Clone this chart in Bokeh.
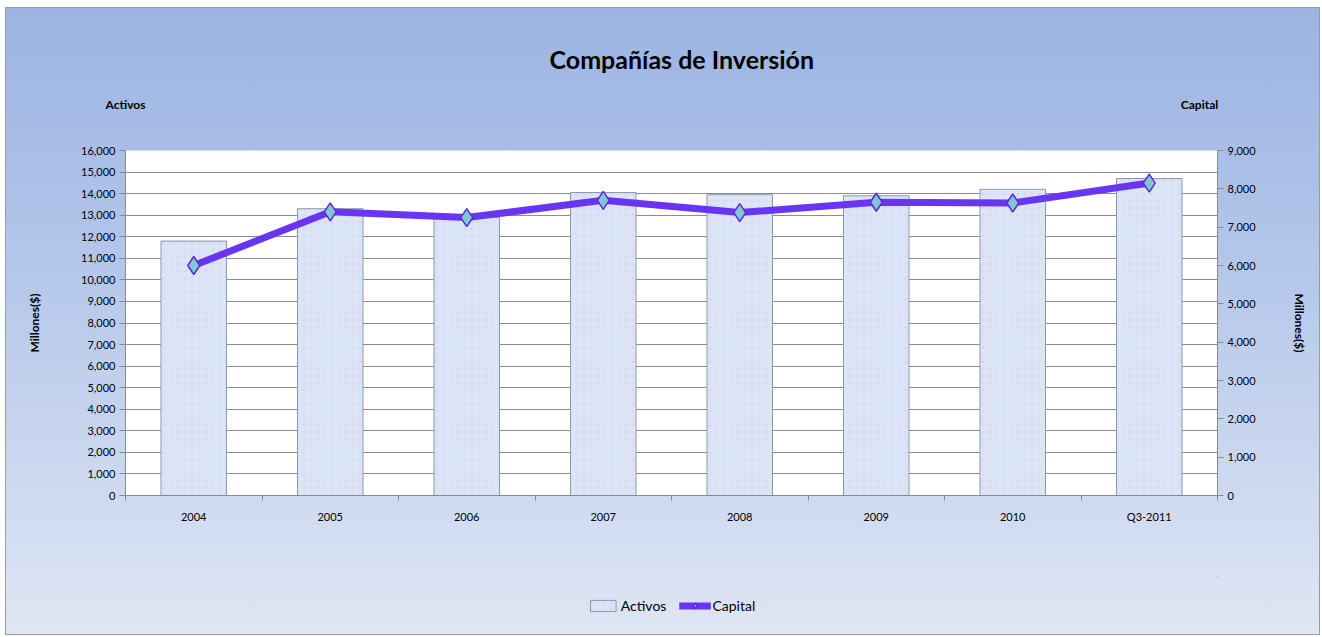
from bokeh.plotting import figure
from bokeh.layouts import column
from bokeh.models import (Range1d, LinearAxis, Legend, LegendItem, Title,
                          NumeralTickFormatter, SingleIntervalTicker, FixedTicker)
from bokeh.embed import file_html
from bokeh.resources import INLINE

years = ["2004", "2005", "2006", "2007", "2008", "2009", "2010", "Q3-2011"]
activos = [11800, 13300, 12900, 14050, 13950, 13900, 14200, 14700]
capital = [6000, 7400, 7250, 7700, 7380, 7650, 7630, 8150]

title_text = "Compañías de Inversión"
left_title = "Activos"
right_title = "Capital"
axis_title = "Millones($)"

FONT = "Lato"
FL, FR, FT, FB = 119, 102, 142, 65
FW, FH = 1092, 345
LMAX, RMAX = 16000, 9000

BAR_STYLE = dict(fill_color="#d8e7f8", line_color="#8f96a8", line_width=1,
                 hatch_pattern="dot", hatch_color="#efc8ee", hatch_alpha=0.7, hatch_scale=7)
LINE_STYLE = dict(line_color="#6a35f2", line_width=7)
PT_STYLE = dict(marker="diamond", size=18, fill_color="#7fc6d6", line_color="#5a2bd0", line_width=1.5)

n = len(years)
xs = [i + 0.5 for i in range(n)]          # category centres

p = figure(frame_width=FW, frame_height=FH, x_range=Range1d(0, n),
           y_range=Range1d(0, LMAX), output_backend="svg", toolbar_location=None,
           min_border_left=FL, min_border_right=FR, min_border_top=FT, min_border_bottom=FB,
           border_fill_alpha=0, background_fill_color="white", outline_line_color=None)
p.extra_y_ranges = {"cap": Range1d(0, RMAX)}
p.extra_x_ranges = {"hdr": Range1d(0, FW)}

bars = p.vbar(x=xs, top=activos, width=0.48, **BAR_STYLE)
line = p.line(x=xs, y=capital, y_range_name="cap", **LINE_STYLE)
pts = p.scatter(x=xs, y=capital, y_range_name="cap", **PT_STYLE)

# axes
ax = p.yaxis[0]
ax.ticker = SingleIntervalTicker(interval=1000)
ax.formatter = NumeralTickFormatter(format="0,0")
ax.axis_label = axis_title
ax.axis_label_standoff = 36

rax = LinearAxis(y_range_name="cap", ticker=SingleIntervalTicker(interval=1000),
                 formatter=NumeralTickFormatter(format="0,0"), axis_label=axis_title,
                 axis_label_standoff=33)
p.add_layout(rax, "right")

for a in [ax, rax]:
    a.axis_line_color = "#8a8a8a"
    a.major_tick_line_color = "#8a8a8a"
    a.major_tick_out = 6
    a.major_tick_in = 0
    a.minor_tick_line_color = None
    a.major_label_text_font = FONT
    a.major_label_text_font_size = "11px"
    a.major_label_text_color = "#000000"
    a.axis_label_text_font = FONT
    a.axis_label_text_font_size = "12px"
    a.axis_label_text_font_style = "bold"
    a.axis_label_text_color = "#000000"
    a.major_label_standoff = 4

xa = p.xaxis[0]
xa.ticker = FixedTicker(ticks=xs, minor_ticks=list(range(n + 1)))
xa.major_label_overrides = {x: y for x, y in zip(xs, years)}
xa.axis_line_color = "#8a8a8a"
xa.major_tick_line_color = None
xa.minor_tick_line_color = "#8a8a8a"
xa.minor_tick_out = 5
xa.minor_tick_in = 0
xa.major_label_text_font = FONT
xa.major_label_text_font_size = "11px"
xa.major_label_text_color = "#000000"
xa.major_label_standoff = 8

# header row: "Activos" (left) and "Capital" (right) as labels of a tickless top axis
hdr = LinearAxis(x_range_name="hdr", ticker=FixedTicker(ticks=[0, 1074]),
                 major_label_overrides={0: left_title, 1074: right_title})
hdr.axis_line_color = None
hdr.major_tick_line_color = None
hdr.minor_tick_line_color = None
hdr.major_label_text_font = FONT
hdr.major_label_text_font_size = "12px"
hdr.major_label_text_font_style = "bold"
hdr.major_label_text_color = "#000000"
hdr.major_label_standoff = 33
p.add_layout(hdr, "above")

p.title = Title(text=title_text, align="left", offset=424, standoff=40,
                text_font=FONT, text_font_size="25px", text_font_style="bold",
                text_color="#000000")

p.xgrid.grid_line_color = None
p.ygrid.ticker = SingleIntervalTicker(interval=1000)
p.ygrid.grid_line_color = "#8c8c8c"
p.ygrid.grid_line_width = 1

# legend strip below the chart (legend proxies use the same series, kept out of view)
TW = FL + FW + FR
lg = figure(width=TW, height=74, x_range=Range1d(-100, -99), y_range=Range1d(-100, -99),
            x_axis_type=None, y_axis_type=None, output_backend="svg", toolbar_location=None,
            min_border_left=0, min_border_right=0, min_border_top=16, min_border_bottom=0,
            border_fill_alpha=0, background_fill_alpha=0, outline_line_color=None)
lbars = lg.vbar(x=xs, top=activos, width=0.48, **BAR_STYLE)
lline = lg.line(x=xs, y=capital, **LINE_STYLE)
lpts = lg.scatter(x=xs, y=capital, **PT_STYLE)
legend = Legend(items=[LegendItem(label="Activos", renderers=[lbars]),
                       LegendItem(label="Capital", renderers=[lline, lpts])],
                orientation="horizontal", location="center",
                background_fill_alpha=0, border_line_color=None,
                label_text_font=FONT, label_text_font_size="14px", label_text_color="#000000",
                glyph_width=32, glyph_height=14, label_standoff=2, spacing=12,
                padding=0, margin=0)
lg.add_layout(legend, "center")

layout = column(p, lg, spacing=0, margin=(7, 0, 0, 5),
                styles={"background-image": "linear-gradient(to bottom, #9bb4e2 0%, #b3c6ea 40%, #dfe6f4 100%)",
                        "border": "1px solid #9a9a9a"})

open("out.html", "w").write(file_html(layout, INLINE))
